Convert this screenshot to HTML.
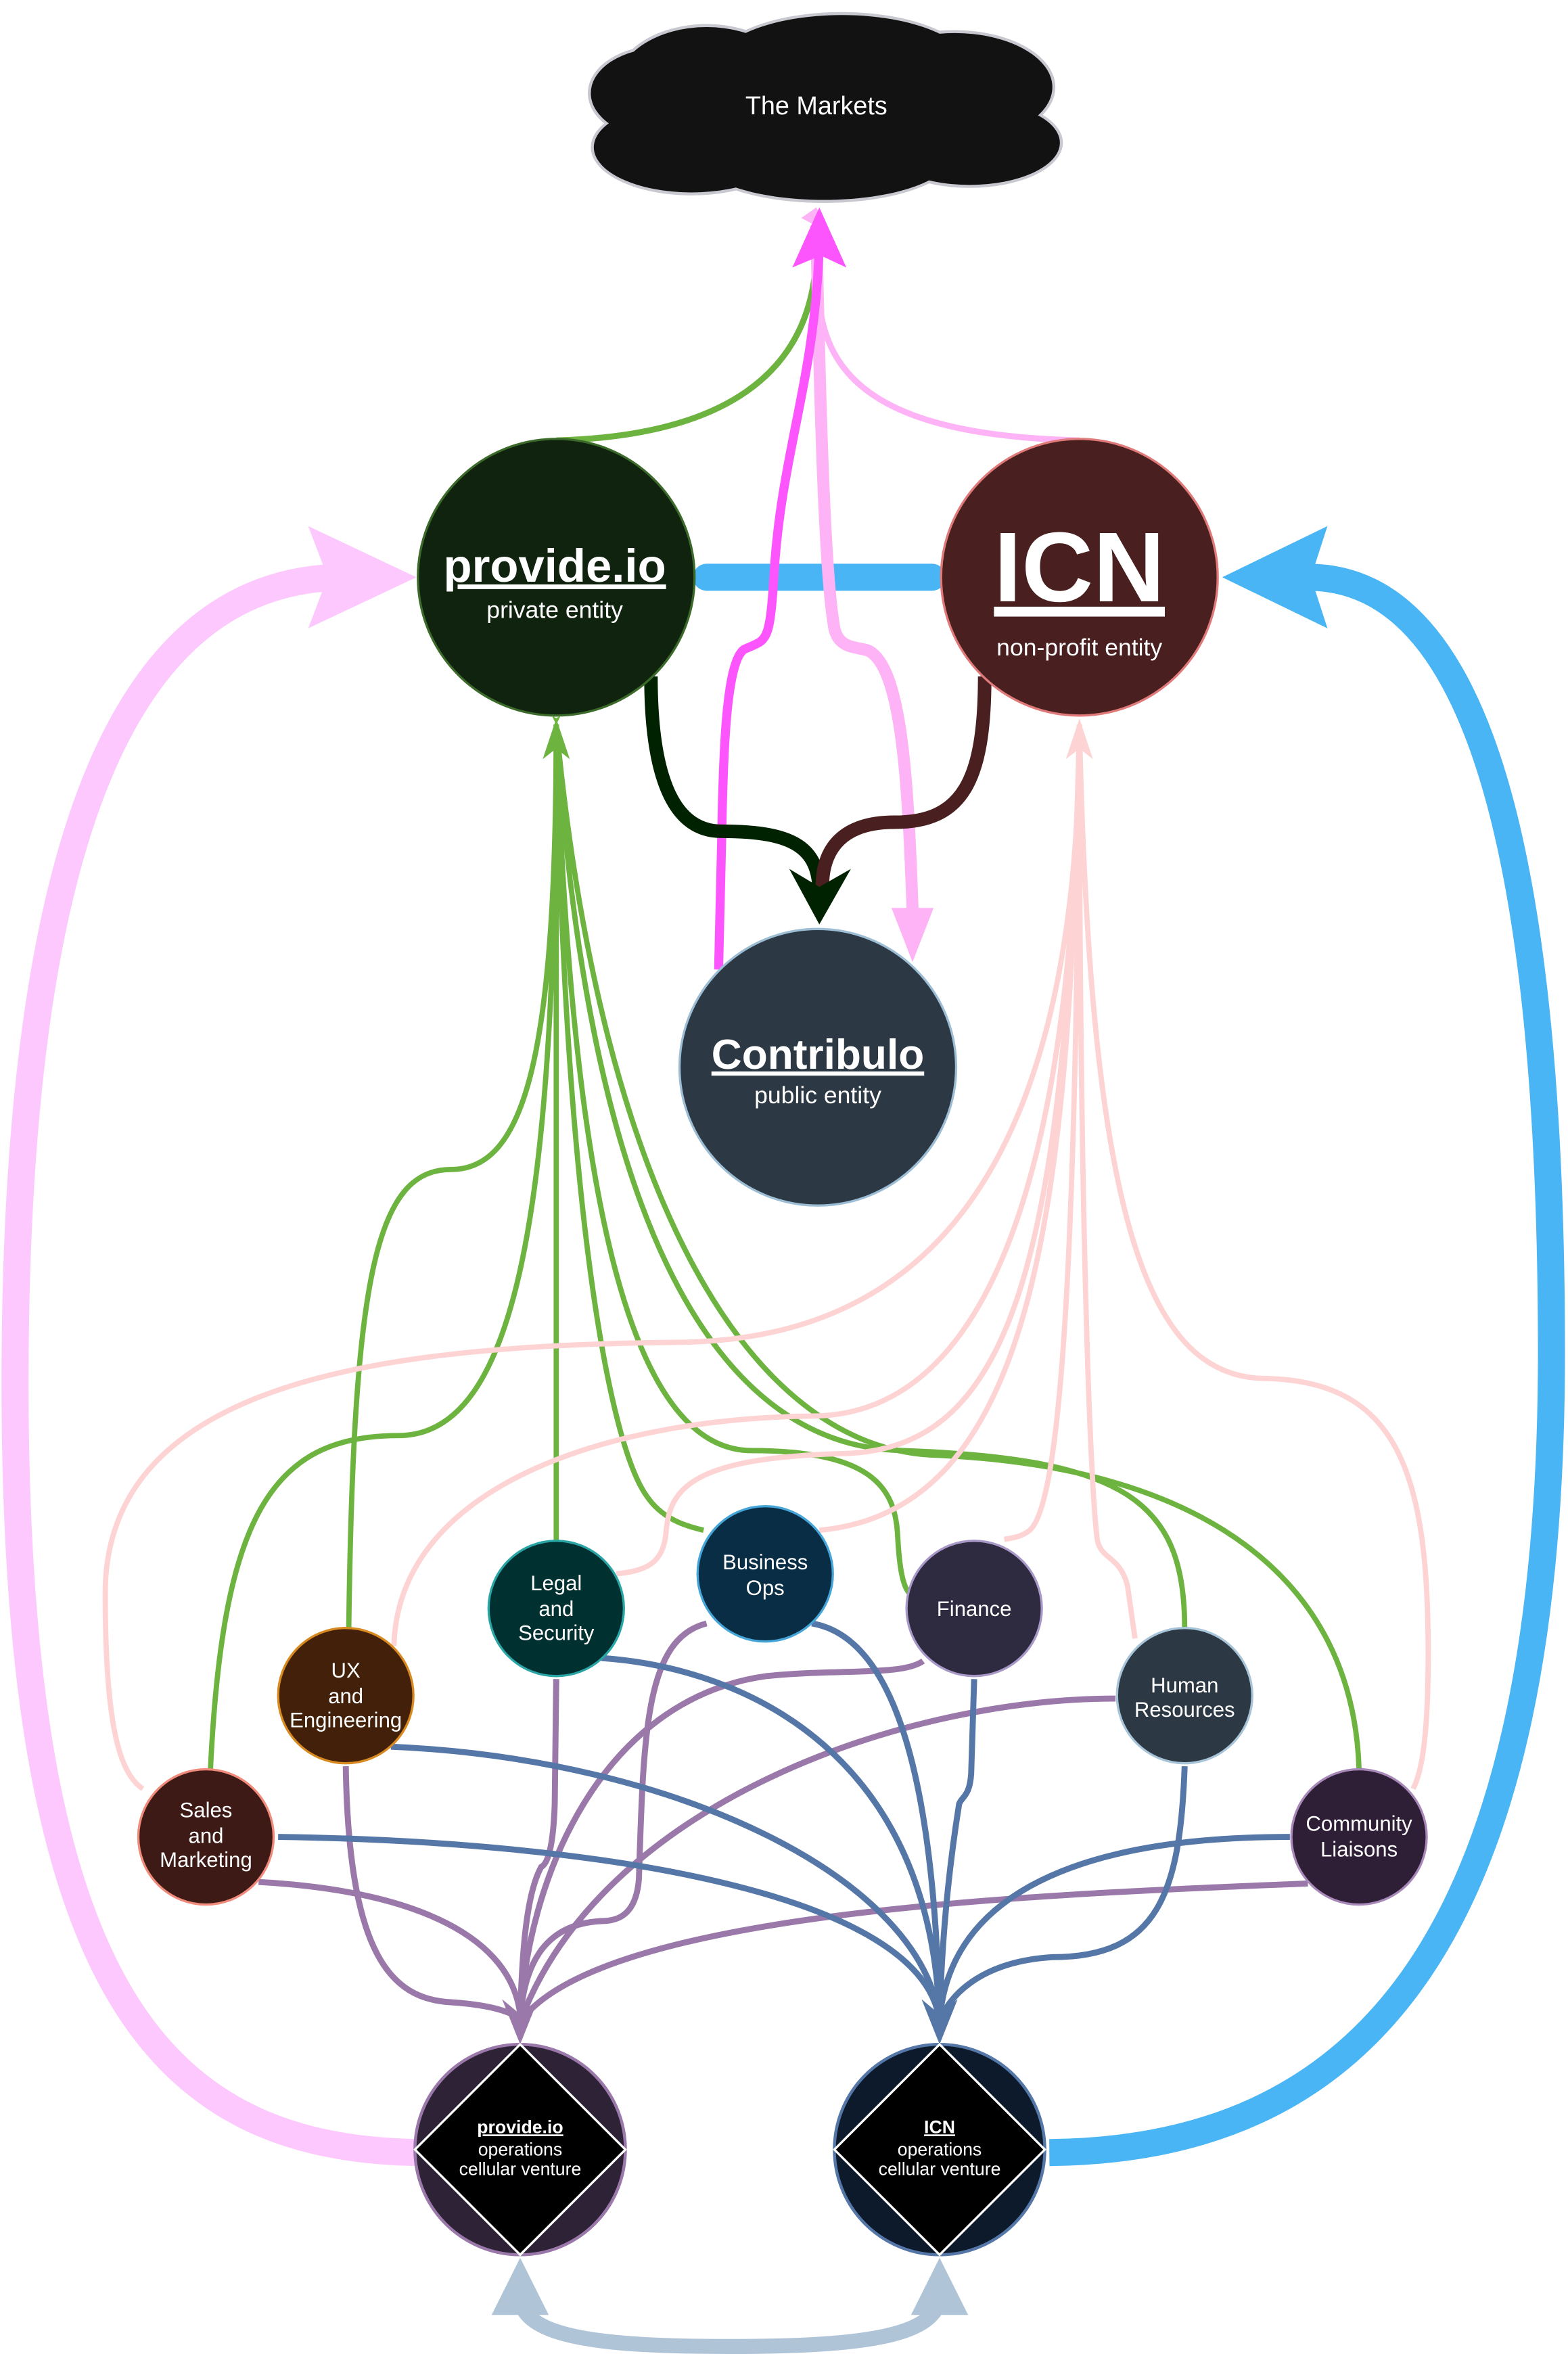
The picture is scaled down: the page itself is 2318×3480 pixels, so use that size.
<!DOCTYPE html>
<html><head><meta charset="utf-8"><style>
html,body{margin:0;padding:0;background:#fff;}
svg{display:block;}
text{font-family:"Liberation Sans",sans-serif;fill:#fff;text-anchor:middle;}
</style></head><body>
<svg width="2318" height="3480" viewBox="0 0 1043 1566" preserveAspectRatio="none" xmlns="http://www.w3.org/2000/svg">
<defs>
<marker id="mg" viewBox="0 0 10 10" refX="10" refY="5" markerWidth="6" markerHeight="6" markerUnits="userSpaceOnUse" orient="auto"><path d="M0,0 L10,5 L0,10 L3,5 Z" fill="#6db33f"/></marker>
<marker id="mp" viewBox="0 0 10 10" refX="10" refY="5" markerWidth="6" markerHeight="6" markerUnits="userSpaceOnUse" orient="auto"><path d="M0,0 L10,5 L0,10 L3,5 Z" fill="#fdd3d3"/></marker>
</defs>

<!-- Cloud -->
<g fill="#c8c8d0">
<ellipse cx="545" cy="75" rx="142" ry="47"/><ellipse cx="470" cy="58" rx="62" ry="42"/><ellipse cx="560" cy="45" rx="87" ry="37"/><ellipse cx="635" cy="58" rx="67" ry="38"/><ellipse cx="460" cy="98" rx="67" ry="32"/><ellipse cx="645" cy="95" rx="62" ry="30"/><ellipse cx="548" cy="103" rx="87" ry="32"/><ellipse cx="440" cy="62" rx="49" ry="32"/>
</g>
<g fill="#121212">
<ellipse cx="545" cy="75" rx="140" ry="45"/><ellipse cx="470" cy="58" rx="60" ry="40"/><ellipse cx="560" cy="45" rx="85" ry="35"/><ellipse cx="635" cy="58" rx="65" ry="36"/><ellipse cx="460" cy="98" rx="65" ry="30"/><ellipse cx="645" cy="95" rx="60" ry="28"/><ellipse cx="548" cy="103" rx="85" ry="30"/><ellipse cx="440" cy="62" rx="47" ry="30"/>
</g>
<text x="543" y="76" font-size="17">The Markets</text>

<!-- big side arrows -->
<path d="M280,1432 C110,1430 10,1330 10,920 C10,520 100,384 230,384" fill="none" stroke="#fdc8fd" stroke-width="18"/>
<path d="M277,384 L205,350 L218,384 L205,418 Z" fill="#fdc8fd"/>
<path d="M698,1432 C900,1430 1032,1300 1032,900 C1032,500 960,384 870,384" fill="none" stroke="#4ab5f5" stroke-width="18"/>
<path d="M813,384 L883,350 L872,384 L883,418 Z" fill="#4ab5f5"/>

<!-- blue bar -->
<line x1="470" y1="384" x2="620" y2="384" stroke="#4ab5f5" stroke-width="18"/>
<circle cx="470" cy="384" r="9" fill="#4ab5f5"/><circle cx="620" cy="384" r="9" fill="#4ab5f5"/>

<!-- market lines -->
<path d="M370,293 C480,290 540,250 543,170" fill="none" stroke="#6db33f" stroke-width="4"/>
<path d="M718,293 C600,290 550,260 545,200" fill="none" stroke="#fdb3f5" stroke-width="4"/>
<path d="M543,150 C545,250 548,380 555,418 C558,432 570,430 578,433 C600,445 604,520 607,605" fill="none" stroke="#fdb3f5" stroke-width="8"/>
<path d="M593,604 L621,604 L607,640 Z" fill="#fdb3f5"/>
<path d="M533,145 L543,138 L552,155 Z" fill="#fdb3f5"/>
<path d="M478,645 L480,560 C481,500 483,440 495,432 C510,425 512,430 515,380 C520,300 543,250 545,160" fill="none" stroke="#fd55fd" stroke-width="6"/>
<path d="M545,138 L563,178 L546,170 L527,178 Z" fill="#fd55fd"/>

<!-- to Contribulo -->
<path d="M433,450 C433,510 445,553 480,553 C530,553 545,565 545,595" fill="none" stroke="#002200" stroke-width="9"/>
<path d="M655,450 C655,520 640,547 595,547 C560,547 547,565 547,590" fill="none" stroke="#4a1f1f" stroke-width="9"/>
<path d="M525,578 L545,590 L566,578 L545,615 Z" fill="#002200"/>

<!-- big nodes -->
<circle cx="370" cy="384" r="92" fill="#10230f" stroke="#3b6a2a" stroke-width="1.5"/>
<text x="369" y="387" font-size="31" font-weight="bold" text-decoration="underline">provide.io</text>
<text x="369" y="411" font-size="16">private entity</text>
<circle cx="718" cy="384" r="92" fill="#4a1f1f" stroke="#e07a7a" stroke-width="1.5"/>
<text x="718" y="400" font-size="66" font-weight="bold" text-decoration="underline">ICN</text>
<text x="718" y="436" font-size="16">non-profit entity</text>
<circle cx="544" cy="710" r="92" fill="#2c3945" stroke="#9cbdd4" stroke-width="1.5"/>
<text x="544" y="711" font-size="28" font-weight="bold" text-decoration="underline">Contribulo</text>
<text x="544" y="734" font-size="16">public entity</text>

<!-- green lines -->
<g fill="none" stroke="#6db33f" stroke-width="3.5">
<path d="M370,482 C370,700 350,778 300,778 C250,778 235,850 232,1083" marker-start="url(#mg)"/>
<path d="M370,482 C370,800 345,955 265,955 C180,955 148,1010 140,1177"/>
<path d="M370,482 L370,1025"/>
<path d="M370,482 C375,800 405,960 430,995 C440,1010 455,1015 468,1018"/>
<path d="M370,482 C380,800 420,965 500,965 C580,965 595,990 597,1020 C598,1040 600,1055 605,1060"/>
<path d="M370,482 C390,800 470,962 600,965 C750,970 788,1000 788,1083"/>
<path d="M370,482 C400,800 500,962 620,968 C800,975 900,1050 904,1177"/>
</g>
<path d="M370,478 L379,505 L370,498 L361,505 Z" fill="#6db33f"/>

<!-- pale pink lines -->
<g fill="none" stroke="#fdd3d3" stroke-width="3.5">
<path d="M718,482 C718,800 600,892 450,893 C250,895 70,920 70,1060 C70,1150 80,1180 95,1190"/>
<path d="M718,482 C715,800 650,942 540,942 C400,944 265,990 262,1095"/>
<path d="M718,482 C710,850 670,965 560,967 C460,970 445,990 443,1020 C441,1040 430,1045 410,1047"/>
<path d="M718,482 C712,800 690,1005 545,1018"/>
<path d="M718,482 C716,850 705,1000 685,1018 C680,1022 675,1023 668,1024"/>
<path d="M718,482 C718,800 725,990 730,1025 C733,1038 745,1035 750,1055 L755,1090"/>
<path d="M718,482 C725,800 760,915 840,917 C930,918 950,980 950,1100 C950,1160 945,1180 940,1190"/>
</g>
<path d="M718,478 L727,505 L718,498 L709,505 Z" fill="#fdd3d3"/>

<!-- purple to provide ops -->
<g fill="none" stroke="#9a78aa" stroke-width="4">
<path d="M172,1252 C280,1258 340,1290 346,1340"/>
<path d="M230,1175 C232,1300 260,1330 300,1332 C330,1334 345,1340 346,1345"/>
<path d="M370,1117 L369,1200 C368,1230 364,1240 360,1242 C350,1260 347,1300 346,1345"/>
<path d="M470,1080 C430,1090 428,1150 425,1250 C423,1275 410,1278 400,1278 C360,1280 348,1310 346,1345"/>
<path d="M614,1105 C600,1115 560,1110 510,1115 C400,1130 350,1250 346,1345"/>
<path d="M742,1130 C600,1130 400,1200 346,1345"/>
<path d="M870,1253 C700,1260 400,1270 346,1345"/>
</g>
<path d="M346,1360 L334,1330 L346,1340 L358,1330 Z" fill="#9a78aa"/>

<!-- blue to ICN ops -->
<g fill="none" stroke="#5577a8" stroke-width="4">
<path d="M185,1222 C400,1225 615,1260 625,1345"/>
<path d="M260,1162 C450,1170 615,1250 625,1345"/>
<path d="M400,1103 C500,1110 620,1170 625,1345"/>
<path d="M540,1080 C600,1090 622,1200 625,1345"/>
<path d="M648,1117 L646,1180 C645,1195 640,1195 638,1200 C630,1250 626,1300 625,1345"/>
<path d="M788,1175 C785,1260 770,1302 700,1302 C650,1305 630,1330 625,1345"/>
<path d="M858,1222 C700,1222 630,1270 625,1345"/>
</g>
<path d="M625,1360 L613,1330 L625,1340 L637,1330 Z" fill="#5577a8"/>

<!-- small nodes -->
<g stroke-width="1.5" font-size="14">
<circle cx="137" cy="1222" r="45" fill="#3d1a16" stroke="#f08a7a"/>
<circle cx="230" cy="1128" r="45" fill="#42200a" stroke="#d88a20"/>
<circle cx="370" cy="1070" r="45" fill="#00302f" stroke="#2aa5a5"/>
<circle cx="509" cy="1047" r="45" fill="#082d44" stroke="#45a5d8"/>
<circle cx="648" cy="1070" r="45" fill="#2e2a40" stroke="#a898c8"/>
<circle cx="788" cy="1128" r="45" fill="#2c3944" stroke="#a8c4d8"/>
<circle cx="904" cy="1222" r="45" fill="#2e1f36" stroke="#a888b8"/>
</g>
<g font-size="14">
<text x="137" y="1209">Sales</text><text x="137" y="1226">and</text><text x="137" y="1242">Marketing</text>
<text x="230" y="1116">UX</text><text x="230" y="1133">and</text><text x="230" y="1149">Engineering</text>
<text x="370" y="1058">Legal</text><text x="370" y="1075">and</text><text x="370" y="1091">Security</text>
<text x="509" y="1044">Business</text><text x="509" y="1061">Ops</text>
<text x="648" y="1075">Finance</text>
<text x="788" y="1126">Human</text><text x="788" y="1142">Resources</text>
<text x="904" y="1218">Community</text><text x="904" y="1235">Liaisons</text>
</g>

<!-- ops nodes -->
<ellipse cx="346" cy="1430" rx="70" ry="70" fill="#2e2236" stroke="#9a78aa" stroke-width="2"/>
<path d="M346,1360 L416,1430 L346,1500 L276,1430 Z" fill="#000" stroke="#fff" stroke-width="1.5"/>
<text x="346" y="1419" font-size="12" font-weight="bold" text-decoration="underline">provide.io</text>
<text x="346" y="1434" font-size="12">operations</text>
<text x="346" y="1447" font-size="12">cellular venture</text>
<ellipse cx="625" cy="1430" rx="70" ry="70" fill="#0c1a2c" stroke="#5577a8" stroke-width="2"/>
<path d="M625,1360 L695,1430 L625,1500 L555,1430 Z" fill="#000" stroke="#fff" stroke-width="1.5"/>
<text x="625" y="1419" font-size="12" font-weight="bold" text-decoration="underline">ICN</text>
<text x="625" y="1434" font-size="12">operations</text>
<text x="625" y="1447" font-size="12">cellular venture</text>

<!-- bottom grey -->
<path d="M346,1530 C350,1555 400,1561 485,1561 C570,1561 620,1555 625,1530" fill="none" stroke="#b0c4d8" stroke-width="10"/>
<path d="M327,1540 L346,1502 L365,1540 Z" fill="#b0c4d8"/>
<path d="M606,1540 L625,1502 L644,1540 Z" fill="#b0c4d8"/>
</svg>
</body></html>
